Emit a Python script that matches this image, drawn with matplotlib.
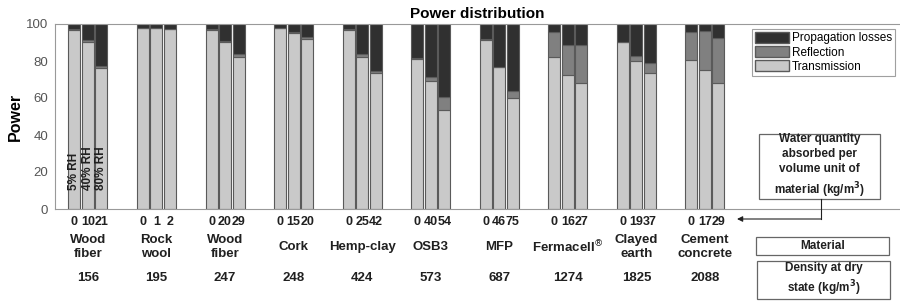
import numpy as np
import matplotlib
matplotlib.use('Agg')
import matplotlib.pyplot as plt
from matplotlib.patches import Rectangle, Patch
from matplotlib.transforms import blended_transform_factory

plt.rcParams['font.family'] = ['Liberation Sans', 'DejaVu Sans']

# Data
materials = ['Wood\nfiber', 'Rock\nwool', 'Wood\nfiber', 'Cork', 'Hemp-clay', 'OSB3',
             'MFP', 'Fermacell$^{\\circledR}$', 'Clayed\nearth', 'Cement\nconcrete']
density = ['156', '195', '247', '248', '424', '573', '687', '1274', '1825', '2088']
water = [['0', '10', '21'], ['0', '1', '2'], ['0', '20', '29'], ['0', '15', '20'],
         ['0', '25', '42'], ['0', '40', '54'], ['0', '46', '75'], ['0', '16', '27'],
         ['0', '19', '37'], ['0', '17', '29']]
transmission = [[97.0, 90.4, 76.0], [97.6, 97.6, 97.2], [97.0, 90.5, 82.4],
                [97.6, 95.3, 92.0], [96.5, 82.4, 73.4], [81.0, 69.4, 53.5],
                [91.4, 76.6, 59.8], [82.0, 72.3, 67.9], [90.1, 80.2, 73.7],
                [80.6, 75.1, 68.3]]
reflection = [[0.5, 0.7, 1.3], [0.3, 0.3, 0.3], [0.3, 0.4, 1.2], [0.3, 0.3, 0.8],
              [1.0, 1.4, 1.0], [0.4, 2.1, 7.2], [0.5, 0.4, 3.8], [13.9, 16.3, 20.7],
              [0.4, 2.5, 5.4], [15.3, 20.9, 24.0]]
rh_labels = ['5% RH', '40% RH', '80% RH']

c_trans = '#c9c9c9'
c_refl = '#808080'
c_loss = '#303030'
edge = '#5a5a5a'

fig = plt.figure(figsize=(9, 3.01), dpi=100)
ax = fig.add_axes([55/900, 1-209/301, 844/900, 185/301])

def px(x, y):
    return (x/900., 1-y/301.)

width = 0.175
step = 0.197
tick_pos = []
tick_lab = []
for g in range(len(materials)):
    for k in range(3):
        x = g + 1 + (k-1)*step
        t = transmission[g][k]
        r = reflection[g][k]
        l = 100 - t - r
        ax.bar(x, t, width, color=c_trans, edgecolor=edge, linewidth=0.8)
        ax.bar(x, r, width, bottom=t, color=c_refl, edgecolor=edge, linewidth=0.8)
        ax.bar(x, l, width, bottom=t+r, color=c_loss, edgecolor=edge, linewidth=0.8)
        tick_pos.append(x)
        tick_lab.append(water[g][k])
        if g == 0:
            ax.text(x, 10, rh_labels[k], rotation=90, ha='center', va='bottom',
                    fontsize=8.5, fontweight='bold', color='#202020')

ax.set_xlim(0.52, 12.83)
ax.set_ylim(0, 100)
ax.set_yticks(np.arange(0, 101, 20))
ax.set_xticks(tick_pos)
ax.set_xticklabels(tick_lab, fontsize=9, fontweight='bold', color='#202020')
ax.tick_params(axis='x', length=0, pad=5)
ax.tick_params(axis='y', length=0, pad=5, labelsize=9.5, labelcolor='#555555')
for s in ['left', 'bottom', 'top']:
    ax.spines[s].set_color('#999999')
ax.spines['right'].set_visible(False)
ax.set_ylabel('Power', fontsize=11.5, fontweight='bold', labelpad=2)
ax.set_title('Power distribution', fontsize=11, fontweight='bold', pad=4)

trans = blended_transform_factory(ax.transData, fig.transFigure)
for g in range(len(materials)):
    ax.text(g + 1, px(0, 247)[1], materials[g], transform=trans, ha='center', va='center',
            fontsize=9.5, fontweight='bold', color='#202020', linespacing=1.25)
    ax.text(g + 1, px(0, 278)[1], density[g], transform=trans, ha='center', va='center',
            fontsize=9.5, fontweight='bold', color='#202020')

handles = [Patch(facecolor=c_loss, edgecolor=edge, label='Propagation losses'),
           Patch(facecolor=c_refl, edgecolor=edge, label='Reflection'),
           Patch(facecolor=c_trans, edgecolor=edge, label='Transmission')]
leg = ax.legend(handles=handles, loc='upper left', bbox_to_anchor=px(752, 29),
                bbox_transform=fig.transFigure, fontsize=8.5, fancybox=False,
                edgecolor='#888888', handlelength=2.9, handleheight=1.05,
                labelspacing=0.15, handletextpad=0.2, borderpad=0.25, borderaxespad=0)
leg.get_frame().set_linewidth(0.8)

def box(x0, y0, x1, y1, txt, fs=8.5):
    (fx0, fy1) = px(x0, y0)
    (fx1, fy0) = px(x1, y1)
    fig.add_artist(Rectangle((fx0, fy0), fx1-fx0, fy1-fy0, transform=fig.transFigure,
                             facecolor='white', edgecolor='#666666', linewidth=0.9))
    fig.text((fx0+fx1)/2, (fy0+fy1)/2, txt, ha='center', va='center', fontsize=fs,
             fontweight='bold', color='#202020', linespacing=1.35)

box(759, 134, 880, 199, 'Water quantity\nabsorbed per\nvolume unit of\nmaterial (kg/m$^\\mathbf{3}$)')
box(756, 237, 889, 255, 'Material')
box(757, 261, 890, 299, 'Density at dry\nstate (kg/m$^\\mathbf{3}$)')

# arrow from the box down to the tick labels
fig.add_artist(plt.Line2D([px(821, 0)[0]]*2, [px(0, 199)[1], px(0, 219)[1]],
                          transform=fig.transFigure, color='#202020', linewidth=0.8))
fig.add_artist(matplotlib.patches.FancyArrowPatch(px(821, 219), px(737, 219),
               transform=fig.transFigure, arrowstyle='-|>', mutation_scale=8,
               color='#202020', linewidth=0.8, shrinkA=0, shrinkB=0))

plt.savefig('out.png', dpi=100)
